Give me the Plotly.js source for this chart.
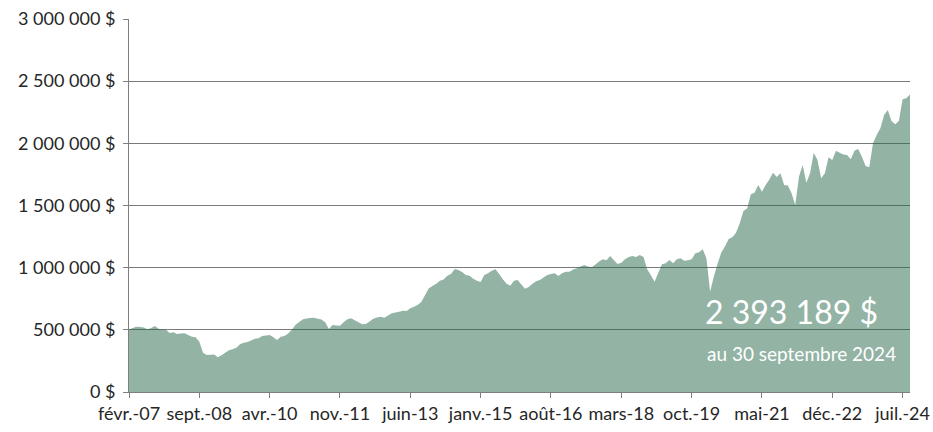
<!DOCTYPE html>
<html>
<head>
<meta charset="utf-8">
<script src="https://cdn.plot.ly/plotly-3.0.1.min.js"></script>
<style>html,body{margin:0;padding:0;background:#fff;}#chart{width:933px;height:432px;}</style>
</head>
<body>
<div id="chart"></div>
<script>
// Monthly values (in thousands of $), février 2007 -> septembre 2024
const valuesK = [
500,515,525,522,518,505,515,530,508,503,500,474,
480,466,470,472,458,445,440,405,315,298,300,302,
279,295,315,335,343,355,385,397,402,415,428,432,
450,455,458,440,418,445,450,470,500,540,562,585,
592,596,598,590,584,560,507,539,534,532,560,585,
593,578,560,544,546,567,590,600,605,598,615,633,
640,646,654,652,673,685,700,726,780,835,853,870,
895,905,935,950,990,981,965,941,935,910,895,885,
941,955,975,987,950,906,870,855,895,901,864,830,
845,870,890,901,920,941,950,955,933,955,968,968,
985,995,1010,1021,1010,1004,1025,1050,1067,1060,1094,1060,
1030,1040,1067,1085,1094,1085,1102,1085,987,940,887,960,
1027,1036,1061,1036,1067,1075,1055,1060,1067,1115,1123,1148,
1075,807,928,1030,1120,1170,1231,1245,1280,1357,1456,1475,
1590,1603,1665,1611,1665,1710,1764,1730,1759,1665,1660,1598,
1504,1732,1826,1683,1760,1925,1866,1719,1760,1888,1866,1941,
1925,1910,1906,1871,1941,1954,1893,1818,1807,2000,2067,2121,
2228,2268,2180,2153,2180,2354,2362,2393.189
];
const xTickLabels = ["févr.-07","sept.-08","avr.-10","nov.-11","juin-13","janv.-15","août-16","mars-18","oct.-19","mai-21","déc.-22","juil.-24"];
const yTickVals = [0,500000,1000000,1500000,2000000,2500000,3000000];
const yTickLabels = ["0 $","500 000 $","1 000 000 $","1 500 000 $","2 000 000 $","2 500 000 $","3 000 000 $"];
const finalLabel = "2 393 189 $";
const finalDate = "au 30 septembre 2024";

const values = valuesK.map(v => v * 1000);
const idx = values.map((_, i) => i);
const xTickVals = xTickLabels.map((_, k) => k * 19);

const trace = {
  x: idx, y: values, type: 'scatter', mode: 'none',
  fill: 'tozeroy', fillcolor: 'rgba(39,103,75,0.5)', hoverinfo: 'skip'
};

const layout = {
  width: 933, height: 432,
  margin: {l: 129, r: 23, t: 19, b: 40},
  paper_bgcolor: '#fff', plot_bgcolor: '#fff',
  showlegend: false,
  font: {family: 'Lato, "Open Sans", sans-serif', size: 18, color: '#262626'},
  xaxis: {
    range: [0, 211], tickmode: 'array', tickvals: xTickVals, ticktext: xTickLabels,
    showgrid: false, zeroline: false, showline: true, linecolor: '#7f7f7f', linewidth: 1,
    ticks: 'outside', ticklen: 5, tickcolor: '#7f7f7f', tickfont: {size: 18}
  },
  yaxis: {
    range: [0, 3000000], tickmode: 'array', tickvals: yTickVals, ticktext: yTickLabels,
    showgrid: true, gridcolor: '#7a7a7a', gridwidth: 1, zeroline: false,
    showline: true, linecolor: '#7f7f7f', linewidth: 1,
    ticks: 'outside', ticklen: 5, tickcolor: '#7f7f7f', tickfont: {size: 18},
    ticklabelstandoff: 4
  },
  annotations: [
    {xref: 'paper', yref: 'paper', x: 0.735, y: 0.217, xanchor: 'left', yanchor: 'middle',
     text: finalLabel, showarrow: false, font: {size: 32, color: '#fff'}},
    {xref: 'paper', yref: 'paper', x: 0.737, y: 0.102, xanchor: 'left', yanchor: 'middle',
     text: finalDate, showarrow: false, font: {size: 19, color: '#fff'}}
  ]
};

Plotly.newPlot('chart', [trace], layout, {displayModeBar: false, staticPlot: true});
</script>
</body>
</html>
